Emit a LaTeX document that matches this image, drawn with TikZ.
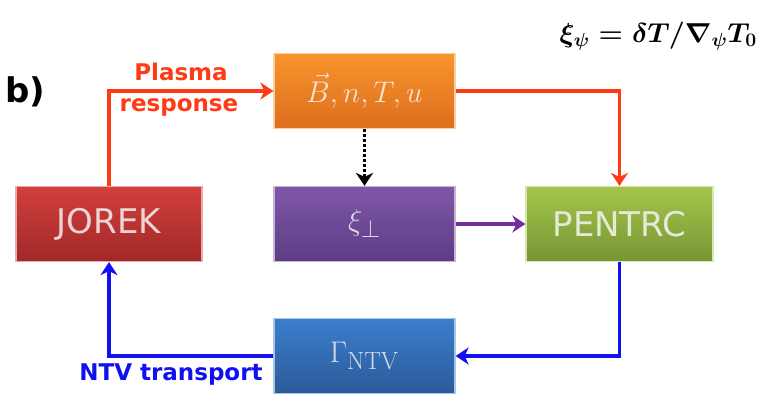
\documentclass[tikz,border=0pt]{standalone}
\usepackage[no-math]{fontspec}
\setmainfont{DejaVu Sans}
\usepackage{amsmath, amssymb}
\usepackage{tikz}
\usetikzlibrary{arrows.meta}

\definecolor{cOrangeT}{HTML}{F8952C}
\definecolor{cOrangeB}{HTML}{DC6E1E}
\definecolor{cPurpleT}{HTML}{8057A8}
\definecolor{cPurpleB}{HTML}{5C3D84}
\definecolor{cBlueT}{HTML}{3B7ECD}
\definecolor{cBlueB}{HTML}{2B5A98}
\definecolor{cRedT}{HTML}{D2403D}
\definecolor{cRedB}{HTML}{A12828}
\definecolor{cGreenT}{HTML}{A5C54C}
\definecolor{cGreenB}{HTML}{779634}
\definecolor{cResp}{HTML}{FF3A14}
\definecolor{cNtv}{HTML}{1010F0}
\definecolor{cXi}{HTML}{7030A0}

% big math inside the blocks
\newcommand{\blkmath}[1]{\scalebox{1.2}{\fontsize{24.88}{26}\selectfont$#1$}}

\begin{document}
\begin{tikzpicture}[x=1pt, y=-1pt,
  blk/.style={minimum width=181pt, minimum height=75pt, inner sep=0pt,
    draw=#1T!45, line width=1.2pt, text=white!80!#1B},
  lbl/.style={font=\fontsize{23}{23}\selectfont\bfseries},
  arr/.style={line width=3.2pt, -{Stealth[length=13pt, width=17pt, inset=4pt]}}]
\useasboundingbox (0,0) rectangle (758,396);

% title and relation
\node[font=\fontsize{34}{34}\selectfont\bfseries, anchor=west] (tag) at (2,92) {b)};
\node[font=\fontsize{24}{24}\selectfont, anchor=east, inner sep=0pt] (rel) at (757,36)
  {\scalebox{1.12}[1.1]{\boldmath$\xi_\psi = \delta T/\nabla_\psi T_0$}};

% blocks
\node[blk=cOrange, top color=cOrangeT, bottom color=cOrangeB] (resp) at (364.5,91)
  {\blkmath{\vec{B},n,T,u}};
\node[blk=cPurple, top color=cPurpleT, bottom color=cPurpleB] (xi) at (364.5,224)
  {\blkmath{\xi_\perp}};
\node[blk=cBlue, top color=cBlueT, bottom color=cBlueB] (gam) at (364.5,356)
  {\blkmath{\Gamma_{\mathrm{NTV}}}};
\node[blk=cRed, minimum width=186pt, top color=cRedT, bottom color=cRedB,
  font=\fontsize{34}{34}\selectfont] (jorek) at (109,224) {JOREK};
\node[blk=cGreen, minimum width=187pt, top color=cGreenT, bottom color=cGreenB,
  font=\fontsize{34}{34}\selectfont] (pentrc) at (619.5,224) {PENTRC};

% connectors
\draw[arr, cResp] (jorek.north) |- (resp.west);
\draw[arr, cResp] (resp.east) -| (pentrc.north);
\draw[arr, cXi] (xi.east) -- (pentrc.west);
\draw[arr, black, line width=3pt, dotted] (resp.south) -- (xi.north);
\draw[arr, cNtv] (pentrc.south) |- (gam.east);
\draw[arr, cNtv] (gam.west) -| (jorek.south);

% connector labels
\node[lbl, text=cResp] (plasma) at (181,72) {Plasma};
\node[lbl, text=cResp] (response) at (179,107) {response};
\node[lbl, text=cNtv] (ntv) at (171,375) {NTV transport};
\end{tikzpicture}
\end{document}
